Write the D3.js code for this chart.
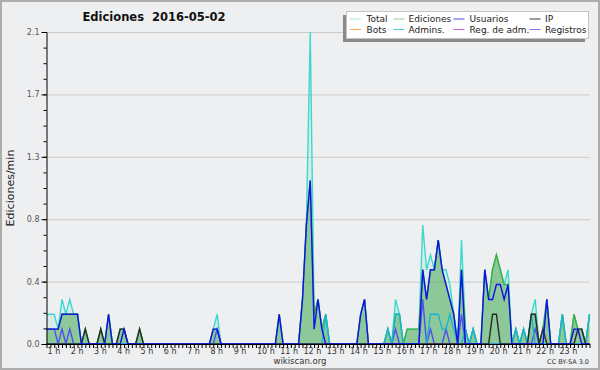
<!DOCTYPE html>
<html>
<head>
<meta charset="utf-8">
<script src="https://cdnjs.cloudflare.com/ajax/libs/d3/7.8.5/d3.min.js"></script>
<style>
  body { margin: 0; background: #eeeff1; }
  svg { display: block; font-family: "DejaVu Sans", sans-serif; }
</style>
</head>
<body>
<script>
// actions per 10 minutes, one value per 10 min slot, one row per hour
var total = [
  2,2,2,1,3,2, 3,2,2,0,1,0, 0,0,1,0,2,0, 0,1,1,0,0,0, 1,0,0,0,0,0, 0,0,0,0,0,0,
  0,0,0,0,0,0, 0,1,2,0,0,0, 0,0,0,0,0,0, 0,0,0,0,0,0, 2,0,0,0,0,0, 3,8,21,2,3,1,
  2,0,0,0,0,0, 0,0,0,2,3,0, 0,0,0,0,1,0, 3,2,0,1,1,1, 1,8,5,6,5,7, 5,5,4,2,0,7,
  1,0,1,0,0,5, 3,5,6,5,4,5, 0,1,0,1,0,2, 3,0,1,3,0,0, 0,2,0,0,2,1, 1,0,2];
var ediciones = [
  1,1,1,1,2,2, 2,2,2,0,1,0, 0,0,1,0,2,0, 0,1,1,0,0,0, 1,0,0,0,0,0, 0,0,0,0,0,0,
  0,0,0,0,0,0, 0,1,1,0,0,0, 0,0,0,0,0,0, 0,0,0,0,0,0, 2,0,0,0,0,0, 3,8,11,2,3,1,
  2,0,0,0,0,0, 0,0,0,2,3,0, 0,0,0,0,1,0, 2,2,0,1,1,1, 1,5,3,5,5,7, 5,4,3,2,0,5,
  1,0,1,0,0,5, 3,5,6,5,4,4, 0,1,0,1,0,2, 2,0,1,3,0,0, 0,2,0,0,2,1, 1,0,2];
var usuarios = [
  1,1,1,1,2,2, 2,2,2,0,0,0, 0,0,0,0,2,0, 0,0,1,0,0,0, 0,0,0,0,0,0, 0,0,0,0,0,0,
  0,0,0,0,0,0, 0,1,1,0,0,0, 0,0,0,0,0,0, 0,0,0,0,0,0, 2,0,0,0,0,0, 3,8,11,1,3,1,
  0,0,0,0,0,0, 0,0,0,2,3,0, 0,0,0,0,0,0, 0,0,0,0,0,0, 0,5,3,5,5,7, 5,4,3,2,0,5,
  0,0,0,0,0,5, 3,3,4,4,3,4, 0,0,0,0,0,0, 0,0,0,3,0,0, 0,0,0,0,1,1, 0,0,0];
var ip = [
  0,0,0,0,0,0, 0,0,0,0,1,0, 0,0,1,0,0,0, 0,1,1,0,0,0, 1,0,0,0,0,0, 0,0,0,0,0,0,
  0,0,0,0,0,0, 0,0,0,0,0,0, 0,0,0,0,0,0, 0,0,0,0,0,0, 0,0,0,0,0,0, 0,0,0,0,0,0,
  0,0,0,0,0,0, 0,0,0,0,0,0, 0,0,0,0,0,0, 0,0,0,0,0,0, 0,0,0,0,0,0, 0,0,0,0,0,0,
  0,0,0,0,0,0, 0,2,2,0,0,0, 0,0,0,0,0,2, 2,0,1,0,0,0, 0,0,0,0,0,1, 1,0,0];
var bots = [
  0,0,0,0,0,0, 0,0,0,0,0,0, 0,0,0,0,0,0, 0,0,0,0,0,0, 0,0,0,0,0,0, 0,0,0,0,0,0,
  0,0,0,0,0,0, 0,0,0,0,0,0, 0,0,0,0,0,0, 0,0,0,0,0,0, 0,0,0,0,0,0, 0,0,0,0,0,0,
  0,0,0,0,0,0, 0,0,0,0,0,0, 0,0,0,0,0,0, 0,0,0,0,0,0, 0,0,0,0,0,0, 0,0,0,0,0,0,
  0,0,0,0,0,0, 0,0,0,0,0,0, 0,0,0,0,0,0, 0,0,0,0,0,0, 0,0,0,0,0,0, 0,0,0];
var admins = [
  0,0,0,0,0,0, 0,0,0,0,0,0, 0,0,0,0,0,0, 0,0,0,0,0,0, 0,0,0,0,0,0, 0,0,0,0,0,0,
  0,0,0,0,0,0, 0,0,0,0,0,0, 0,0,0,0,0,0, 0,0,0,0,0,0, 0,0,0,0,0,0, 0,0,0,0,0,0,
  2,0,0,0,0,0, 0,0,0,0,0,0, 0,0,0,0,1,0, 2,2,0,0,0,0, 0,0,0,2,2,2, 1,1,2,1,0,0,
  1,0,1,0,0,0, 0,0,0,0,0,0, 0,1,0,1,0,2, 0,0,0,0,0,0, 0,2,0,0,0,0, 0,0,2];
var regAdm = [
  0,0,0,0,0,0, 0,0,0,0,0,0, 0,0,0,0,0,0, 0,0,0,0,0,0, 0,0,0,0,0,0, 0,0,0,0,0,0,
  0,0,0,0,0,0, 0,0,0,0,0,0, 0,0,0,0,0,0, 0,0,0,0,0,0, 0,0,0,0,0,0, 0,0,0,0,0,0,
  0,0,0,0,0,0, 0,0,0,0,0,0, 0,0,0,0,0,0, 0,0,0,0,0,0, 0,0,0,0,0,0, 0,0,0,0,0,0,
  0,0,0,0,0,0, 0,0,0,0,0,0, 0,0,0,0,0,0, 0,0,0,0,0,0, 0,0,0,0,0,0, 0,0,0];
var registros = [
  1,1,1,0,1,0, 1,0,0,0,0,0, 0,0,0,0,0,0, 0,0,0,0,0,0, 0,0,0,0,0,0, 0,0,0,0,0,0,
  0,0,0,0,0,0, 0,0,1,0,0,0, 0,0,0,0,0,0, 0,0,0,0,0,0, 0,0,0,0,0,0, 0,0,0,0,0,0,
  0,0,0,0,0,0, 0,0,0,0,0,0, 0,0,0,0,0,0, 1,0,0,0,0,0, 0,3,0,1,0,0, 0,1,0,0,0,2,
  0,0,0,0,0,0, 0,0,0,0,0,0, 0,0,0,0,0,0, 1,0,0,0,0,0, 0,0,0,0,0,0, 0,0,0];

var seriesNames = ["Total", "Ediciones", "Usuarios", "IP", "Bots", "Admins.", "Reg. de adm.", "Registros"];
var seriesColors = ["#3cd8cc", "#3fae3f", "#1010e8", "#2a2a2a", "#ff9a2a", "#18b4d8", "#cc33cc", "#5050f0"];
var legendColors = ["#a8e4e2", "#8ed08e", "#4a4aec", "#3a3a3a", "#f7a850", "#50c8dc", "#d060d8", "#7a7af4"];
var hourLabels = ["1 h","2 h","3 h","4 h","5 h","6 h","7 h","8 h","9 h","10 h","11 h","12 h",
                  "13 h","14 h","15 h","16 h","17 h","18 h","19 h","20 h","21 h","22 h","23 h"];
var yTickLabels = ["0.0", "0.4", "0.8", "1.3", "1.7", "2.1"];
var yMax = 2.1;

var series = [total, ediciones, usuarios, ip, bots, admins, regAdm, registros];

// slots are 10 minutes, the chart shows edits per minute
function perMin(v) { return v / 10; }

var width = 600, height = 370;
var plot = {left: 46.5, right: 589.5, top: 32, bottom: 344};

var svg = d3.select("body").append("svg")
            .attr("width", width)
            .attr("height", height);

// background and frame
svg.append("rect")
   .attr("x", 1).attr("y", 1)
   .attr("width", width - 2).attr("height", height - 2)
   .style("fill", "#eeeff1")
   .style("stroke", "#adadad")
   .style("stroke-width", 2);

// scales
var xScale = d3.scaleLinear()
               .domain([0, total.length - 1])
               .range([plot.left, plot.right]);

var yScale = d3.scaleLinear()
               .domain([0, yMax])
               .range([plot.bottom, plot.top]);

var majorTicks = d3.range(yTickLabels.length).map(function(i) { return i * yMax / (yTickLabels.length - 1); });
var minorTicks = d3.range(21).map(function(i) { return i * yMax / 20; });

// grid lines
svg.append("g")
   .attr("class", "grid")
   .attr("transform", "translate(" + plot.left + ",0)")
   .call(d3.axisLeft(yScale).tickValues(majorTicks).tickSize(-(plot.right - plot.left)).tickFormat(""))
   .call(function(g) {
     g.select(".domain").remove();
     g.selectAll("line").style("stroke", "#cacaca");
   });

// filled areas: total then edits
var areaOf = function(d) {
  return d3.area()
           .x(function(v, i) { return xScale(i); })
           .y0(plot.bottom)
           .y1(function(v) { return yScale(perMin(v)); })(d);
};

svg.append("path")
   .attr("d", areaOf(total))
   .style("fill", "#3cd8cc")
   .style("fill-opacity", 0.13);

svg.append("path")
   .attr("d", areaOf(ediciones))
   .style("fill", "#32a032")
   .style("fill-opacity", 0.45);

// lines
var line = d3.line()
             .x(function(v, i) { return xScale(i); })
             .y(function(v) { return yScale(perMin(v)); });

var drawOrder = [4, 6, 0, 1, 7, 5, 3, 2];
drawOrder.forEach(function(s) {
  svg.append("path")
     .attr("d", line(series[s]))
     .style("fill", "none")
     .style("stroke", seriesColors[s])
     .style("stroke-width", 1.4)
     .style("stroke-linejoin", "miter");
});

// y axis with minor ticks
svg.append("g")
   .attr("transform", "translate(" + plot.left + ",0)")
   .call(d3.axisLeft(yScale).tickValues(minorTicks).tickSize(3).tickFormat(""))
   .call(function(g) { g.selectAll("line,path").style("stroke", "#000"); });

svg.append("g")
   .attr("transform", "translate(" + plot.left + ",0)")
   .call(d3.axisLeft(yScale).tickValues(majorTicks).tickSize(5).tickPadding(2)
           .tickFormat(function(d, i) { return yTickLabels[i]; }))
   .call(function(g) {
     g.select(".domain").remove();
     g.selectAll("line").style("stroke", "#000");
     g.selectAll("text").style("font-size", "8px").style("fill", "#555")
      .style("font-family", "DejaVu Sans");
   });

// x axis, one tick per slot
svg.append("g")
   .attr("transform", "translate(0," + plot.bottom + ")")
   .call(d3.axisBottom(xScale).tickValues(d3.range(total.length)).tickSize(4).tickFormat("").tickSizeOuter(0))
   .call(function(g) { g.selectAll("line,path").style("stroke", "#000"); });

// hour labels every 6 slots
svg.append("g").selectAll("text")
   .data(hourLabels)
   .enter()
   .append("text")
   .attr("x", function(d, i) { return xScale(i * 6) + 1; })
   .attr("y", 354)
   .style("font-size", "8px")
   .style("fill", "#333")
   .text(function(d) { return d; });

// y label
svg.append("text")
   .attr("transform", "translate(14,188)rotate(-90)")
   .attr("text-anchor", "middle")
   .style("font-size", "11px")
   .style("fill", "#222")
   .text("Ediciones/min");

// title
svg.append("text")
   .attr("x", 154)
   .attr("y", 21)
   .attr("text-anchor", "middle")
   .style("font-size", "11.5px")
   .style("font-weight", "bold")
   .style("white-space", "pre")
   .style("fill", "#111")
   .text("Ediciones  2016-05-02");

// footer
svg.append("text")
   .attr("x", 300).attr("y", 364)
   .attr("text-anchor", "middle")
   .style("font-size", "8.5px")
   .style("fill", "#333")
   .text("wikiscan.org");

svg.append("text")
   .attr("x", 589).attr("y", 364)
   .attr("text-anchor", "end")
   .style("font-size", "6.5px")
   .style("fill", "#333")
   .text("CC BY-SA 3.0");

// legend with shadow
svg.append("rect")
   .attr("x", 343).attr("y", 15)
   .attr("width", 242).attr("height", 27)
   .style("fill", "#8a8a8a");

svg.append("rect")
   .attr("x", 346.5).attr("y", 11.5)
   .attr("width", 242).attr("height", 27)
   .style("fill", "#fff")
   .style("stroke", "#c4c4c4");

var legendSwatchX = [350, 393.5, 453.5, 529.5];
var legendTextX = [366.5, 408.5, 469.5, 545];
var legendRowY = [19, 29.5];

seriesNames.forEach(function(name, s) {
  var col = s % 4, row = Math.floor(s / 4);
  svg.append("line")
     .attr("x1", legendSwatchX[col]).attr("x2", legendSwatchX[col] + 11)
     .attr("y1", legendRowY[row]).attr("y2", legendRowY[row])
     .style("stroke", legendColors[s])
     .style("stroke-width", 1);
  svg.append("text")
     .attr("x", legendTextX[col])
     .attr("y", legendRowY[row] + 3.3)
     .style("font-size", "9px")
     .style("fill", "#222")
     .text(name);
});
</script>
</body>
</html>
